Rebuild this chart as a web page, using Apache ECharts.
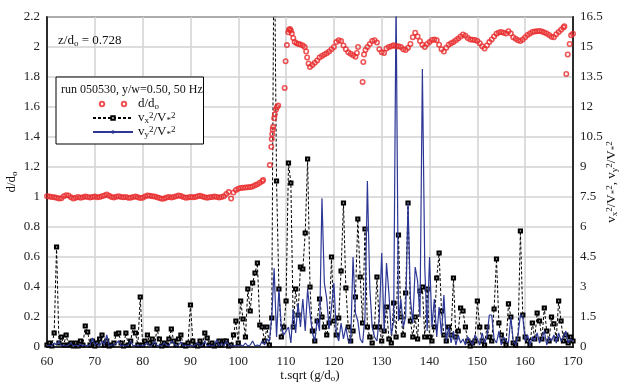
<!DOCTYPE html>
<html><head><meta charset="utf-8">
<script src="https://cdn.jsdelivr.net/npm/echarts@6/dist/echarts.min.js"></script>
<style>html,body{margin:0;padding:0;background:#fff}#c{width:621px;height:385px}</style>
</head><body><div id="c"></div>
<script>
// ---- data ----
const tStart = 60, tStep = 0.5;   // sampling grid of the velocity series (t.sqrt(g/do))
const xTicks = [60, 70, 80, 90, 100, 110, 120, 130, 140, 150, 160, 170];

// d/do  [t, value]
const ddPoints = [
[60,1.005],[60.5,1.003],[61,1.0],[61.5,0.998],[62,0.995],[62.5,0.99],[63,0.992],[63.5,1.005],[64,1.012],[64.5,1.01],
[65,0.998],[65.5,0.99],[66,0.995],[66.5,1.0],[67,0.995],[67.5,0.998],[68,1.003],[68.5,1.0],[69,0.997],[69.5,1.0],
[70,1.003],[70.5,0.998],[71,1.0],[71.5,1.005],[72,1.01],[72.5,1.016],[73,1.008],[73.5,1.0],[74,0.997],[74.5,1.002],
[75,1.005],[75.5,1.0],[76,0.998],[76.5,1.0],[77,0.995],[77.5,0.995],[78,1.0],[78.5,1.003],[79,0.998],[79.5,0.993],
[80,0.995],[80.5,1.003],[81,1.01],[81.5,1.008],[82,1.005],[82.5,1.003],[83,0.998],[83.5,0.993],[84,0.988],[84.5,0.99],
[85,0.997],[85.5,1.0],[86,0.996],[86.5,1.0],[87,1.005],[87.5,1.01],[88,1.006],[88.5,1.0],[89,0.995],[89.5,0.997],
[90,1.0],[90.5,0.998],[91,1.0],[91.5,1.005],[92,1.008],[92.5,1.003],[93,0.998],[93.5,0.995],[94,0.998],[94.5,1.0],
[95,1.003],[95.5,1.0],[96,0.997],[96.5,1.0],[97,1.005],[97.5,1.02],[98,1.033],[98.5,0.99],[99,1.03],[99.5,1.047],
[100,1.055],[100.5,1.06],[101,1.062],[101.5,1.063],[102,1.065],[102.5,1.066],[103,1.07],[103.5,1.078],[104,1.085],[104.5,1.095],
[105,1.105],[105.2,1.113],
[106.6,1.213],[106.9,1.335],[107.0,1.386],[107.1,1.42],[107.2,1.45],[107.3,1.468],[107.5,1.525],[107.65,1.55],[107.9,1.583],[108.1,1.6],[108.35,1.61],
[109.7,1.727],[109.9,1.905],[110.17,2.013],[110.45,2.098],[110.6,2.115],[110.8,2.12],[111.0,2.11],[111.2,2.09],[111.5,2.06],[111.8,2.033],
[112.2,2.025],[112.6,2.02],[113.0,2.016],[113.5,2.01],[113.9,2.0],[114.2,1.97],[114.4,1.93],[114.7,1.89],[115.0,1.867],
[115.5,1.88],[116,1.895],[116.5,1.91],[117,1.93],[117.5,1.94],[118,1.95],[118.5,1.958],[119,1.97],[119.5,1.985],
[120,2.0],[120.5,2.033],[121,2.045],[121.5,2.04],[122,2.01],[122.5,1.985],[123,1.965],[123.5,1.955],[124,1.945],[124.5,1.935],
[124.8,1.96],[125.05,2.0],[126.0,1.767],[126.15,1.9],[126.3,1.95],[126.6,1.98],
[127,2.0],[127.5,2.02],[128,2.04],[128.5,2.045],[129,2.03],[129.5,1.985],[130,1.965],[130.5,1.96],[131,1.99],[131.5,2.0],
[132,2.005],[132.5,2.011],[133,2.005],[133.5,2.005],[134,2.0],[134.5,1.985],[135,1.98],[135.5,1.995],[136,2.02],[136.5,2.065],
[137,2.095],[137.5,2.07],[138,2.04],[138.5,2.015],[139,2.0],[139.5,2.02],[140,2.033],[140.5,2.047],[141,2.05],[141.5,2.045],
[142,2.015],[142.5,1.985],[143,1.97],[143.5,1.995],[144,2.015],[144.5,2.025],[145,2.033],[145.5,2.045],[146,2.056],[146.5,2.07],
[147,2.084],[147.5,2.075],[148,2.06],[148.5,2.05],[149,2.048],[149.5,2.047],[150,2.04],[150.5,2.025],[151,2.005],[151.5,1.99],
[152,2.01],[152.5,2.033],[153,2.05],[153.5,2.07],[154,2.089],[154.5,2.097],[155,2.1],[155.5,2.095],[156,2.09],[156.5,2.105],
[157,2.09],[157.5,2.065],[158,2.055],[158.5,2.045],[159,2.04],[159.5,2.05],[160,2.065],[160.5,2.08],[161,2.09],[161.5,2.1],
[162,2.103],[162.5,2.105],[163,2.107],[163.5,2.103],[164,2.097],[164.5,2.09],[165,2.08],[165.5,2.068],[166,2.065],[166.5,2.085],
[167,2.1],[167.5,2.115],[168,2.13],[168.2,2.138],[168.6,1.82],[168.9,1.95],[169.3,2.02],[169.6,2.078],[170,2.089]
];

// vx^2/V*^2 on the 0.5 grid (60 .. 170)
const vx2 = [
0.1,0.2,0.05,0.7,5.0,0.2,0.5,0.1,0.6,0.1, 0.2,0.05,0.2,0.05,0.3,0.1,1.05,0.75,0.1,0.3,
0.05,0.2,0.4,0.6,0.1,0.3,0.05,0.1,0.2,0.65, 0.7,0.2,0.05,0.7,0.1,0.3,1.0,0.7,0.1,2.5,
0.1,0.3,0.6,0.2,0.4,0.1,0.9,0.4,0.05,0.2, 0.1,0.4,0.9,0.3,0.1,0.4,0.6,0.1,0.05,0.2,
2.1,0.3,0.1,0.05,0.3,0.1,0.7,0.45,0.1,0.2, 0.05,0.1,0.3,0.1,0.3,0.3,0.05,0.1,0.6,1.3,
0.2,2.3,1.4,0.5,2.9,1.8,3.2,3.7,4.2,1.1, 1.0,0.3,1.0,0.1,1.45,22,8.3,2.9,0.5,1.0,
2.3,9.2,8.2,1.0,2.9,1.6,4.0,3.9,5.7,9.4, 3.0,0.8,0.3,1.3,2.4,1.5,1.0,0.6,1.2,4.5,
1.3,0.6,1.45,3.8,7.2,2.95,1.0,0.3,0.8,2.5, 6.4,3.5,1.2,5.9,1.0,0.5,0.2,1.0,3.5,1.0,
0.3,0.8,2.0,0.4,0.2,2.2,0.5,5.6,1.5,0.6, 2.7,7.2,1.3,0.5,1.5,0.4,2.8,3.0,0.5,2.9,
0.5,0.3,1.0,3.45,4.7,1.8,0.6,0.3,1.0,0.6, 3.45,0.5,0.8,1.95,1.8,1.0,0.3,0.05,0.2,0.3,
2.3,1.0,0.3,0.1,1.0,0.5,0.3,1.9,4.4,1.2, 0.6,0.3,0.1,2.16,1.5,0.2,0.1,0.4,5.8,1.6,
0.5,0.3,0.1,1.2,0.4,1.7,1.3,0.4,1.95,0.8, 0.3,1.5,1.16,0.4,2.3,1.3,0.3,0.6,0.2,0.5,
0.3
];

// vy^2/V*^2 on the 0.5 grid (60 .. 170)
const vy2 = [
0.05,0.1,0.05,0.2,0.1,0.3,0.05,0.1,0.05,0.1, 0.2,0.05,0.1,0.05,0.15,0.05,0.1,0.05,0.1,0.45,
0.1,0.2,0.05,0.3,0.1,0.6,0.05,0.1,0.1,0.2, 0.3,0.05,0.1,0.05,0.1,0.3,0.05,0.1,0.05,0.1,
0.05,0.1,0.2,0.05,0.1,0.3,0.05,0.1,0.05,0.2, 0.1,0.05,0.3,0.2,0.05,0.1,0.25,0.05,0.1,0.05,
0.1,0.05,0.1,0.2,0.05,0.1,0.3,0.05,0.1,0.05, 0.1,0.36,0.05,0.2,0.05,0.3,0.1,0.05,0.05,0.1,
0.05,0.1,0.05,0.2,0.05,0.1,0.3,0.05,0.1,0.05, 0.3,0.1,0.4,0.3,1.5,3.94,0.5,2.9,1.0,0.6,
0.8,1.0,0.2,1.9,0.7,2.2,1.0,2.4,0.8,2.9, 1.7,0.7,0.3,1.4,0.8,7.44,3.2,2.4,0.9,2.0,
3.2,0.7,0.3,1.2,0.4,1.0,0.3,0.2,4.5,1.7, 1.3,0.4,0.2,1.5,8.3,3.0,1.0,0.5,0.3,1.5,
4.7,0.8,4.2,2.7,0.6,1.3,17.5,1.3,2.4,1.0, 1.5,7.2,2.4,1.2,4.0,3.3,1.5,13.9,4.0,0.8,
4.5,1.0,2.4,0.5,2.0,0.6,2.6,0.3,1.0,0.2, 0.8,0.1,0.6,0.2,0.4,0.1,0.5,0.3,0.1,0.6,
0.4,0.1,0.7,0.2,0.5,1.6,1.6,0.4,0.2,0.8, 0.1,0.5,0.3,0.2,1.5,0.3,0.1,0.6,1.6,1.5,
0.3,0.6,0.1,0.5,0.3,0.7,0.2,0.4,0.8,0.1, 0.5,0.3,0.6,0.2,0.7,0.3,0.5,0.8,0.2,0.4,
0.3
];

// ---- chart ----
const FONT = '"Liberation Serif", "Times New Roman", serif';
const RED = '#e8292b', BLUE = '#2c3796', GRIDC = '#d2d2d2';
const richStyles = {
  b: { fontFamily: FONT, fontSize: 13, fontWeight: 'normal', lineHeight: 14, color: '#111' },
  sub: { fontFamily: FONT, fontSize: 9, fontWeight: 'normal', lineHeight: 8, verticalAlign: 'bottom', color: '#111' },
  sup: { fontFamily: FONT, fontSize: 9, fontWeight: 'normal', lineHeight: 8, verticalAlign: 'top', color: '#111' }
};
const gridPairs = arr => arr.map((v, i) => [tStart + i * tStep, v]);
const legendLabels = {
  'dd': '{b|d/d}{sub|o}',
  'vx': '{b|v}{sub|x}{sup|2}{b|/V}{sub|*}{sup|2}',
  'vy': '{b|v}{sub|y}{sup|2}{b|/V}{sub|*}{sup|2}'
};
// legend icon for d/do: two hollow circles 22 px apart
const ddIcon = 'path://M0,2.2a2.2,2.2 0 1,0 4.4,0a2.2,2.2 0 1,0 -4.4,0M22,2.2a2.2,2.2 0 1,0 4.4,0a2.2,2.2 0 1,0 -4.4,0';

const chart = echarts.init(document.getElementById('c'), null, { renderer: 'canvas' });
chart.setOption({
  animation: false,
  backgroundColor: '#fff',
  textStyle: { fontFamily: FONT },
  title: [
    { text: '{b|z/d}{sub|o}{b| = 0.728}', left: 58, top: 34, padding: 0,
      textStyle: { fontWeight: 'normal', rich: richStyles } },
    { text: 'run 050530, y/w=0.50, 50 Hz', left: 61, top: 84, padding: 0, z: 20,
      textStyle: { fontFamily: FONT, fontSize: 12, fontWeight: 'normal', color: '#111' } }
  ],
  grid: { left: 47, right: 48, top: 17, bottom: 38, show: true, borderColor: '#000', borderWidth: 1.5,
    backgroundColor: 'transparent', containLabel: false, outerBoundsMode: 'none' },
  legend: {
    orient: 'vertical', left: 56, top: 77,
    padding: [20, 28, 5, 36], itemGap: 0, itemWidth: 40, itemHeight: 4.4,
    symbolKeepAspect: true,
    backgroundColor: '#fff', borderColor: '#000', borderWidth: 1,
    data: [ { name: 'dd', icon: ddIcon }, { name: 'vx' }, { name: 'vy' } ],
    formatter: n => legendLabels[n],
    textStyle: { rich: richStyles, lineHeight: 13 }
  },
  xAxis: {
    type: 'value', min: 60, max: 170, interval: 10,
    name: '{b|t.sqrt (g/d}{sub|o}{b|)}', nameLocation: 'middle', nameGap: 22, nameMoveOverlap: false,
    nameTextStyle: { rich: richStyles },
    axisLine: { lineStyle: { color: '#000', width: 1.5 } },
    axisTick: { show: false },
    axisLabel: { fontFamily: FONT, fontSize: 13, color: '#222', margin: 8,
      formatter: v => (xTicks.indexOf(v) >= 0 ? String(v) : '') },
    splitLine: { show: true, lineStyle: { color: GRIDC, width: 1.5 } }
  },
  yAxis: [
    { type: 'value', min: 0, max: 2.2, interval: 0.2, position: 'left',
      name: '{b|d/d}{sub|o}', nameLocation: 'middle', nameGap: 28, nameRotate: 90, nameMoveOverlap: false,
      nameTextStyle: { rich: richStyles },
      axisLine: { show: true, lineStyle: { color: '#000', width: 1.5 } },
      axisTick: { show: false },
      axisLabel: { fontFamily: FONT, fontSize: 13, color: '#222', margin: 7,
        formatter: v => String(Math.round(v * 10) / 10) },
      splitLine: { show: true, lineStyle: { color: GRIDC, width: 1.5 } } },
    { type: 'value', min: 0, max: 16.5, interval: 1.5, position: 'right',
      name: '{b|v}{sub|x}{sup|2}{b|/V}{sub|*}{sup|2}{b|, v}{sub|y}{sup|2}{b|/V}{sub|*}{sup|2}',
      nameLocation: 'middle', nameGap: 32, nameRotate: 90, nameMoveOverlap: false,
      nameTextStyle: { rich: richStyles },
      axisLine: { show: true, lineStyle: { color: '#000', width: 1.5 } },
      axisTick: { show: false },
      axisLabel: { fontFamily: FONT, fontSize: 13, color: '#222', margin: 7,
        formatter: v => String(Math.round(v * 10) / 10) },
      splitLine: { show: false } }
  ],
  series: [
    { name: 'vx', type: 'line', yAxisIndex: 1, data: gridPairs(vx2), z: 2,
      symbol: 'emptyRect', symbolSize: 3.2, showAllSymbol: true,
      itemStyle: { color: '#000', borderColor: '#000', borderWidth: 0.9 },
      lineStyle: { color: '#000', width: 1, type: [3, 2] } },
    { name: 'vy', type: 'line', yAxisIndex: 1, data: gridPairs(vy2), z: 3,
      symbol: 'none', itemStyle: { color: BLUE },
      lineStyle: { color: BLUE, width: 1.2 } },
    { name: 'dd', type: 'scatter', yAxisIndex: 0, data: ddPoints, z: 4,
      symbol: 'circle', symbolSize: 4.4,
      itemStyle: { color: 'rgba(255,255,255,0)', borderColor: RED, borderWidth: 1.6 } }
  ]
});
</script></body></html>
